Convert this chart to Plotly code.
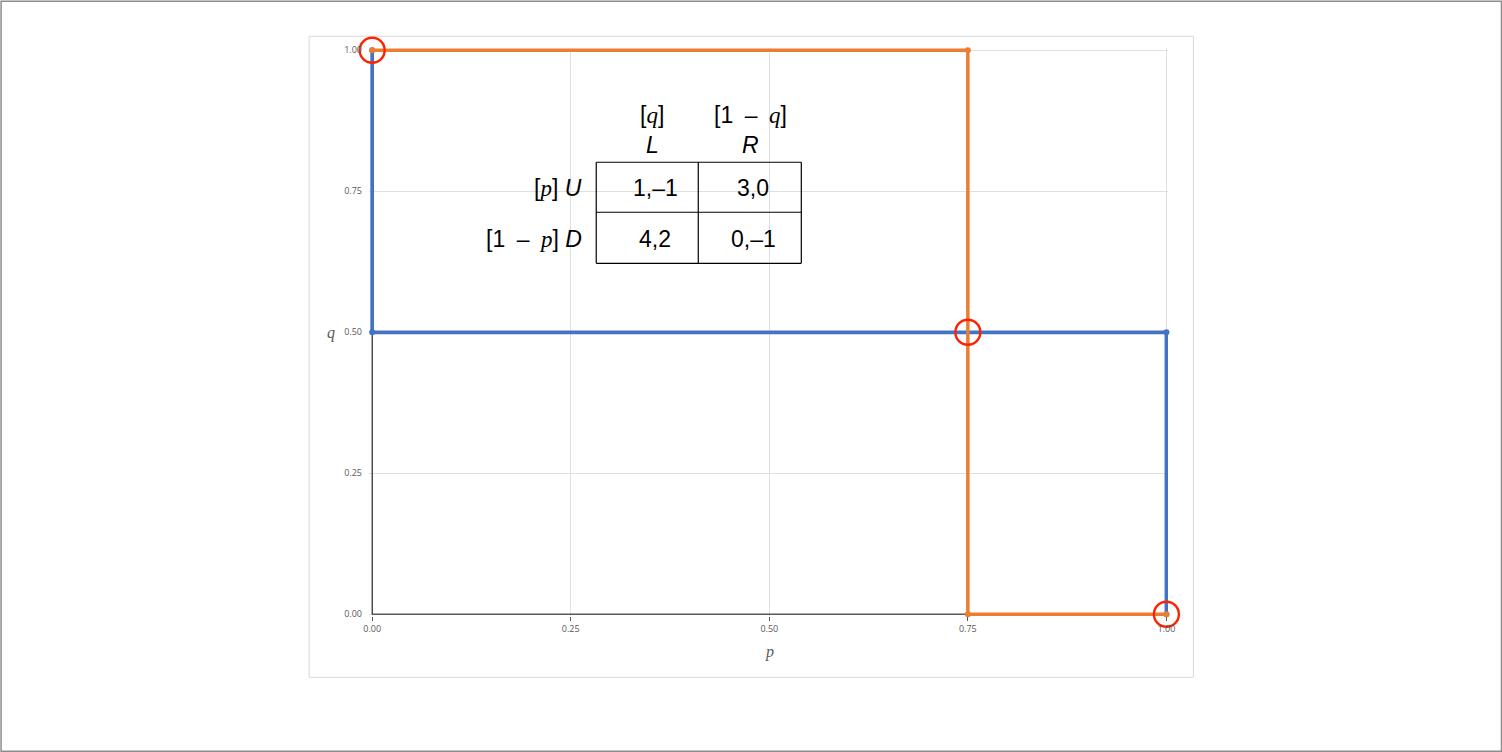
import plotly.graph_objects as go

# best responses in the (p, q) square
blue_p = [0, 0, 1, 1]
blue_q = [1, 0.5, 0.5, 0]
orange_p = [0, 0.75, 0.75, 1]
orange_q = [1, 1, 0, 0]

# Nash equilibria (circled)
ne_p = [0, 0.75, 1]
ne_q = [1, 0.5, 0]

tick_vals = [0, 0.25, 0.5, 0.75, 1]
tick_text = ["0.00", "0.25", "0.50", "0.75", "1.00"]

# payoff table
SERIF = "<span style='font-family:Liberation Serif'><i>{}</i></span>"
DASH = "\u2002–\u2002"
col_top = ["[" + SERIF.format("q") + "]", "[1" + DASH + SERIF.format("q") + "]"]
col_bottom = ["<i>L</i>", "<i>R</i>"]
row_heads = ["[" + SERIF.format("p") + "] <i>U</i>",
             "[1" + DASH + SERIF.format("p") + "] <i>D</i>"]
payoffs = [["1,–1", "3,0"], ["4,2", "0,–1"]]

W, H = 1502, 752
# pixel positions of data 0 and 1 on each axis
X0, X1, Y1, Y0 = 372, 1166, 50, 614

# small padding so lines on the edges are not clipped
PAD_L, PAD_R = 0.004, 0.002
PAD_B, PAD_T = 0.003, 0.004
sx = X1 - X0
sy = Y0 - Y1
ml = X0 - PAD_L * sx
mr = W - (X1 + PAD_R * sx)
mt = Y1 - PAD_T * sy
mb = H - (Y0 + PAD_B * sy)
pw = W - ml - mr
ph = H - mt - mb


def px(x):
    return (x - ml) / pw


def py(y):
    return (H - mb - y) / ph


fig = go.Figure()

# axis lines (drawn at 0 because of range padding)
fig.add_shape(type="line", x0=0, x1=1, y0=0, y1=0, line=dict(color="#595959", width=1.5), layer="between")
fig.add_shape(type="line", x0=0, x1=0, y0=0, y1=1, line=dict(color="black", width=1), layer="between")

fig.add_trace(go.Scatter(x=blue_p, y=blue_q, mode="lines+markers",
                         line=dict(color="#4472C4", width=3.7),
                         marker=dict(size=6, color="#4472C4"),
                         cliponaxis=False, showlegend=False))
fig.add_trace(go.Scatter(x=orange_p, y=orange_q, mode="lines+markers",
                         line=dict(color="#ED7D31", width=3.5),
                         marker=dict(size=6, color="#ED7D31"),
                         cliponaxis=False, showlegend=False))
fig.add_trace(go.Scatter(x=ne_p, y=ne_q, mode="markers",
                         marker=dict(symbol="circle-open", size=25, color="#FF2200",
                                     line=dict(width=2.4, color="#FF2200")),
                         cliponaxis=False, showlegend=False))

# outer frame and chart area frame
fig.add_shape(type="rect", xref="paper", yref="paper",
              x0=px(1), x1=px(W - 1), y0=py(H - 1), y1=py(1),
              line=dict(color="#8c8c8c", width=1.5), layer="below")
fig.add_shape(type="rect", xref="paper", yref="paper",
              x0=px(309), x1=px(1193), y0=py(677), y1=py(36),
              line=dict(color="#d9d9d9", width=1), layer="below")

# table grid
tx = [596, 698, 801]
ty = [162, 212, 263]
for x in tx:
    fig.add_shape(type="line", xref="paper", yref="paper",
                  x0=px(x), x1=px(x), y0=py(ty[0]), y1=py(ty[-1]),
                  line=dict(color="black", width=1.2))
for y in ty:
    fig.add_shape(type="line", xref="paper", yref="paper",
                  x0=px(tx[0]), x1=px(tx[-1]), y0=py(y), y1=py(y),
                  line=dict(color="black", width=1.2))

font_t = dict(family="Liberation Sans, Arial", size=23, color="black")
col_x = [652, 750]
row_y = [188, 239]
for i in range(2):
    fig.add_annotation(text=col_top[i], x=px(col_x[i]), y=py(115), xref="paper", yref="paper",
                       xanchor="center", yanchor="middle", showarrow=False, font=font_t)
    fig.add_annotation(text=col_bottom[i], x=px(col_x[i]), y=py(145), xref="paper", yref="paper",
                       xanchor="center", yanchor="middle", showarrow=False, font=font_t)
for j in range(2):
    fig.add_annotation(text=row_heads[j], x=px(584), y=py(row_y[j]), xref="paper", yref="paper",
                       xanchor="right", yanchor="middle", showarrow=False, font=font_t)
    for i in range(2):
        fig.add_annotation(text=payoffs[j][i], x=px(col_x[i] + 3), y=py(row_y[j]),
                           xref="paper", yref="paper", xanchor="center", yanchor="middle",
                           showarrow=False, font=font_t)

# axis titles
title_font = dict(family="Liberation Serif", size=16, color="#595959")
fig.add_annotation(text="<i>p</i>", x=px(769), y=py(652), xref="paper", yref="paper",
                   xanchor="center", yanchor="middle", showarrow=False, font=title_font)
fig.add_annotation(text="<i>q</i>", x=px(331), y=py(333), xref="paper", yref="paper",
                   xanchor="center", yanchor="middle", showarrow=False, font=title_font)

fig.update_layout(
    width=W, height=H,
    margin=dict(l=ml, r=mr, t=mt, b=mb, pad=0),
    paper_bgcolor="white", plot_bgcolor="white",
    font=dict(family="Open Sans, DejaVu Sans", size=9, color="#595959"),
)
fig.update_xaxes(range=[-PAD_L, 1 + PAD_R], tickvals=tick_vals, ticktext=tick_text,
                 showgrid=True, gridcolor="#e0e0e0", gridwidth=1,
                 showline=False, ticks="outside", ticklen=4, tickcolor="#595959",
                 zeroline=False, fixedrange=True)
fig.update_yaxes(range=[-PAD_B, 1 + PAD_T], tickvals=tick_vals, ticktext=tick_text,
                 showgrid=True, gridcolor="#e0e0e0", gridwidth=1,
                 showline=False, ticks="", ticklabelstandoff=6,
                 zeroline=False, fixedrange=True)

fig.write_html("out.html", config={"displayModeBar": False},
               post_script="document.body.style.margin='0';")
